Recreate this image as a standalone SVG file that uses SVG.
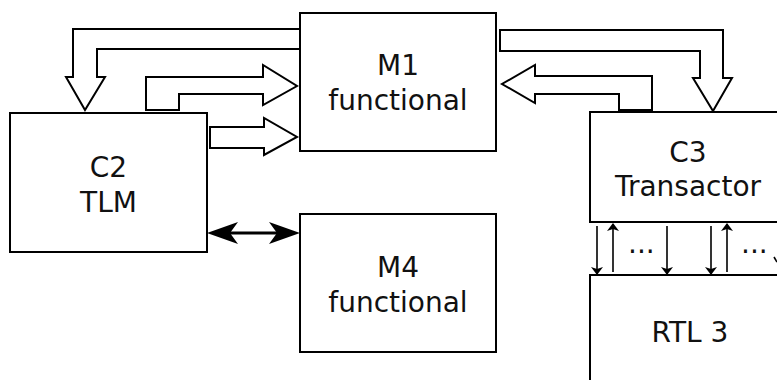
<svg xmlns="http://www.w3.org/2000/svg" width="777" height="380" viewBox="0 0 777 380">
<defs>
<style>
.box{fill:#fff;stroke:#000;stroke-width:2}
.big{fill:#fff;stroke:#000;stroke-width:2;stroke-linejoin:miter}
.lbl{font-family:"DejaVu Sans",sans-serif;font-size:28px;fill:#111;text-anchor:middle}
.sig{stroke:#000;stroke-width:1.6;fill:none}
.dots{font-family:"DejaVu Sans",sans-serif;font-size:28px;fill:#111}
</style>
<marker id="ah" markerWidth="8" markerHeight="12" refX="7" refY="6" orient="auto" markerUnits="userSpaceOnUse" viewBox="0 0 8 12">
<path d="M0,0 L8,6 L0,12 L2,6 Z" fill="#000"/>
</marker>
</defs>
<rect width="777" height="380" fill="#fff"/>
<g id="connectors">
<path class="big" d="M300,29 H73 V77 H66 L85,110 L105,77 H97 V49 H300"/>
<path class="big" d="M146,110 V77 H263 V65 L297,86 L263,105 V94 H179 V110 Z"/>
<path class="big" d="M210,127 H264 V118 L297,137 L264,155 V148 H210 Z"/>
<path class="big" d="M500,30 H723 V78 H732 L713,111 L693,78 H700 V51 H500 Z"/>
<path class="big" d="M619,110 V94 H535 V103 L502,84 L535,65 V76 H652 V110 Z"/>
<g id="bidir">
<line x1="222" y1="233" x2="285" y2="233" stroke="#000" stroke-width="3"/>
<path d="M207,233 L238,222 L230,233 L238,244 Z" fill="#000"/>
<path d="M300,233 L269,222 L277,233 L269,244 Z" fill="#000"/>
</g>
<line class="sig" x1="597" y1="226" x2="597" y2="274" marker-end="url(#ah)"/>
<line class="sig" x1="613" y1="272" x2="613" y2="224" marker-end="url(#ah)"/>
<line class="sig" x1="667" y1="226" x2="667" y2="274" marker-end="url(#ah)"/>
<line class="sig" x1="711" y1="226" x2="711" y2="274" marker-end="url(#ah)"/>
<line class="sig" x1="727" y1="272" x2="727" y2="224" marker-end="url(#ah)"/>
<path class="sig" d="M774,257 L777,262"/>
<text class="dots" x="628" y="253">...</text>
<text class="dots" x="741" y="253">...</text>
</g>
<g id="M1">
<rect class="box" x="300" y="13" width="196" height="138"/>
<text class="lbl" x="398" y="75">M1</text>
<text class="lbl" x="398" y="110">functional</text>
</g>
<g id="C2">
<rect class="box" x="10" y="113" width="197" height="139"/>
<text class="lbl" x="108.5" y="177">C2</text>
<text class="lbl" x="108.5" y="212">TLM</text>
</g>
<g id="M4">
<rect class="box" x="300" y="214" width="196" height="138"/>
<text class="lbl" x="398" y="277">M4</text>
<text class="lbl" x="398" y="312">functional</text>
</g>
<g id="C3">
<rect class="box" x="590" y="112" width="200" height="110"/>
<text class="lbl" x="688" y="162">C3</text>
<text class="lbl" x="688" y="196">Transactor</text>
</g>
<g id="RTL3">
<rect class="box" x="590" y="275" width="200" height="120"/>
<text class="lbl" x="690" y="342">RTL 3</text>
</g>
</svg>
